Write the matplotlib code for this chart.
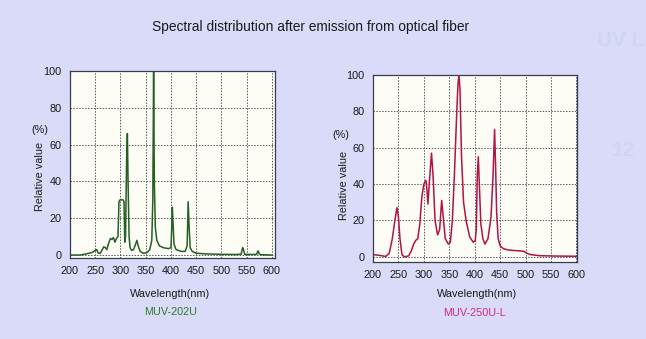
import matplotlib
matplotlib.use("Agg")
import matplotlib.pyplot as plt

plt.rcParams['font.family'] = ['Liberation Sans', 'DejaVu Sans']

# MUV-202U emission spectrum (wavelength nm, relative %)
wl_202 = [200, 220, 235, 245, 250, 253, 256, 260, 264, 267, 270, 273, 276, 280,
          283, 286, 289, 292, 295, 297, 299, 302, 305, 307, 308.5, 310, 312, 313.6,
          315, 317, 319, 322, 326, 330, 332.5, 335, 339, 345, 352, 358, 362, 364,
          365.6, 367, 369, 372, 377, 385, 395, 400, 401.5, 402.6, 404, 406, 410,
          420, 428, 432, 434, 436, 438, 442, 450, 470, 500, 530, 539, 541, 542,
          543.5, 546, 560, 570, 571.5, 573, 574.5, 577, 600]
val_202 = [0, 0, 0.8, 1.5, 2.5, 3, 1, 1, 3, 4.5, 4, 3, 6, 9,
           8.5, 9.5, 7, 9, 10, 29, 30, 30, 30, 29, 7, 10, 50, 66,
           40, 10, 4, 2.5, 3, 6, 8, 5, 2, 1, 1.2, 3, 8, 30,
           100, 40, 15, 8, 5, 4, 3.5, 4, 15, 26, 18, 6, 3,
           2, 2, 5, 29, 15, 4, 2, 1, 0.6, 0.4, 0.3, 0.5, 3, 4,
           3, 0.4, 0.3, 0.4, 2, 2.2, 0.8, 0.2, 0]

# MUV-250U-L emission spectrum (wavelength nm, relative %)
wl_250 = [200, 212, 225, 232, 238, 243, 247, 250, 253, 257, 262, 270, 275, 280,
          284, 288, 292, 296, 300, 304, 306, 308, 311, 315, 318, 322, 327, 331,
          335, 338, 342, 348, 352, 356, 360, 364, 367, 369, 371, 374, 378, 383,
          390, 397, 401, 403, 405, 407, 409, 412, 416, 420, 426, 432, 436, 439,
          441, 443, 446, 450, 456, 465, 475, 490, 497, 502, 510, 527, 560, 600]
val_250 = [1.2, 0.8, 0.2, 2, 10, 20, 27, 22, 10, 1, 0, 0.5, 3, 7,
           9, 10, 18, 33, 40, 42, 37, 29, 42, 57, 45, 20, 12, 15,
           31, 22, 10, 7, 8, 20, 45, 75, 95, 100, 92, 55, 30, 20,
           11, 8, 9, 15, 45, 55, 40, 18, 10, 7, 10, 22, 45, 70,
           50, 25, 10, 6, 4.5, 3.8, 3.5, 3.2, 3, 2, 1.2, 0.6, 0.4, 0.3]

xticks = [200, 250, 300, 350, 400, 450, 500, 550, 600]
yticks = [0, 20, 40, 60, 80, 100]

title = "Spectral distribution after emission from optical fiber"
models = ["MUV-202U", "MUV-250U-L"]

bg = "#d9dbf9"
panel = "#fdfdf6"
frame = "#3a3a50"

fig = plt.figure(figsize=(6.46, 3.39), dpi=100, facecolor=bg)

# faint page heading running off the right edge
fig.text(597/646, 1-40/339, "UV Light Sources", ha="left", va="center",
         color="#d2d4f4", fontsize=15, fontweight="bold")
fig.text(612/646, 1-150/339, "12", ha="left", va="center",
         color="#d2d4f4", fontsize=15, fontweight="bold")

def draw_panel(rect, x, y, color, xlim, ylim):
    ax = fig.add_axes(rect)
    ax.set_facecolor(panel)
    ax.plot(x, y, color=color, lw=1.1, solid_joinstyle='round')
    ax.set_xlim(*xlim)
    ax.set_ylim(*ylim)
    ax.set_xticks(xticks)
    ax.set_yticks(yticks)
    ax.tick_params(length=0, labelsize=7.8, colors="#1a1a1a", pad=6)
    ax.grid(True, color="#555566", ls=(0, (1.5, 1.5)), lw=0.7)
    for s in ax.spines.values():
        s.set_color(frame)
        s.set_linewidth(0.9)
    return ax

ax1 = draw_panel([70/646, 1-258/339, 205/646, 187/339], wl_202, val_202,
                 "#245f24", (200, 606), (-1.6, 100))
ax2 = draw_panel([373/646, 1-261.7/339, 204/646, 186.7/339], wl_250, val_250,
                 "#b0124a", (200, 601), (-2.7, 99.5))

txt = dict(color="#1a1a1a", fontsize=7.8)
fig.text(311/646, 1-27/339, title, ha="center", va="center", color="#1a1a1a", fontsize=9.9)

# left panel labels
fig.text(40/646, 1-130/339, "(%)", ha="center", va="center", **txt)
fig.text(40/646, 1-176/339, "Relative value", ha="center", va="center", rotation=90, **txt)
fig.text(170/646, 1-294/339, "Wavelength(nm)", ha="center", va="center", **txt)
fig.text(171/646, 1-312/339, models[0], ha="center", va="center", color="#2f7a2f", fontsize=7.8)

# right panel labels
fig.text(341/646, 1-135/339, "(%)", ha="center", va="center", **txt)
fig.text(344/646, 1-185/339, "Relative value", ha="center", va="center", rotation=90, **txt)
fig.text(477/646, 1-294/339, "Wavelength(nm)", ha="center", va="center", **txt)
fig.text(474/646, 1-313/339, models[1], ha="center", va="center", color="#d02a7a", fontsize=7.8)

fig.savefig("out.png", dpi=100, facecolor=bg)
